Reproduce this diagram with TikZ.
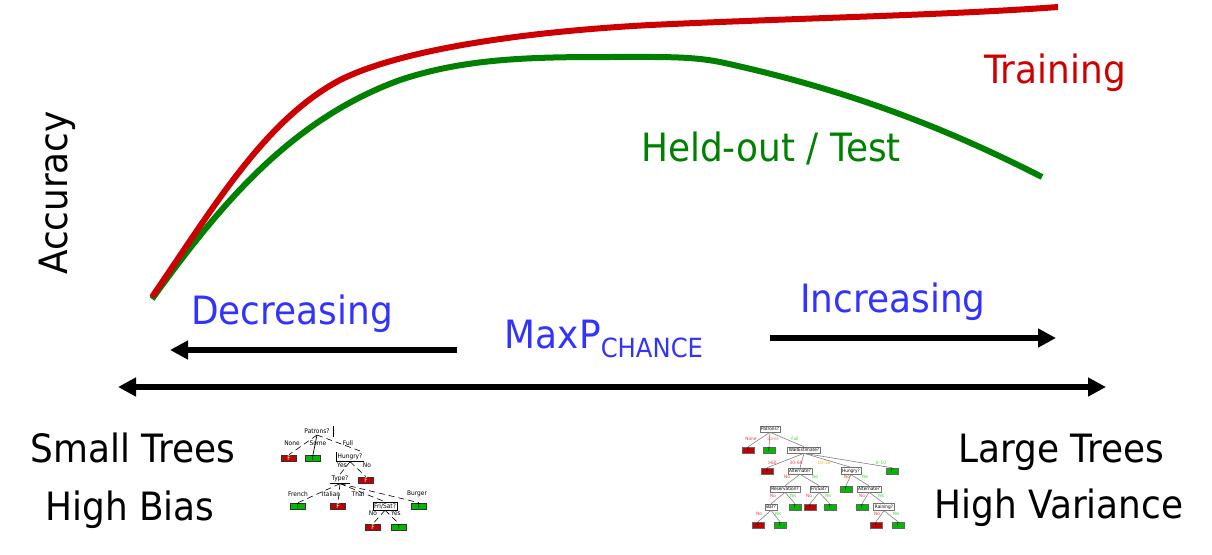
\documentclass[tikz,border=0pt]{standalone}
\usepackage{fontspec}
\setmainfont{DejaVu Sans}[FakeStretch=0.92]
\usetikzlibrary{arrows.meta}
\definecolor{trainred}{RGB}{204,0,0}
\definecolor{testgreen}{RGB}{0,128,0}
\definecolor{labelblue}{RGB}{51,51,255}
\definecolor{leafred}{RGB}{192,0,0}
\definecolor{leafgreen}{RGB}{0,185,0}
\definecolor{lblred}{RGB}{240,60,60}
\definecolor{lblgreen}{RGB}{60,210,60}
\definecolor{lblorange}{RGB}{255,170,30}
\newcommand{\smallfont}{\fontsize{3.2}{3.7}\selectfont}
\newcommand{\bigtreefont}{\fontsize{2.3}{2.7}\selectfont}
\tikzset{
  big/.style={font=\fontsize{19.5}{23}\selectfont, inner sep=0pt, anchor=base},
  curve/.style={line width=3pt},
  bar/.style={line width=3pt},
  tip/.tip={Triangle[length=9pt,width=9pt]},
  sleaf/.style={draw=black!80, line width=0.3pt, minimum width=7.5pt, minimum height=3pt, inner sep=0pt, font=\smallfont},
  sleafF/.style={sleaf, fill=leafred, text=white},
  sleafT/.style={sleaf, fill=leafgreen},
  stest/.style={inner sep=0.6pt, font=\smallfont},
  sbox/.style={stest, draw, line width=0.3pt},
  sedge/.style={densely dashed, line width=0.3pt},
  slbl/.style={inner sep=0pt, font=\smallfont},
  bleaf/.style={draw=black!60, line width=0.25pt, minimum width=6pt, minimum height=3pt, inner sep=0pt, font=\bigtreefont},
  bleafF/.style={bleaf, fill=leafred},
  bleafT/.style={bleaf, fill=leafgreen},
  btest/.style={draw=black!55, line width=0.3pt, fill=white, inner sep=0.6pt, font=\bigtreefont},
  bedge/.style={draw=black!50, line width=0.3pt},
  blbl/.style={inner sep=0pt, font=\bigtreefont},
}
\begin{document}
\begin{tikzpicture}[x=0.5pt,y=-0.5pt]
\useasboundingbox (0,0) rectangle (1212,554);

\draw[curve, testgreen] (152,299) .. controls (220,205) and (290,120) .. (400,80)
  .. controls (460,60) and (520,57) .. (600,57)
  .. controls (660,57) and (690,56) .. (720,62)
  .. controls (850,90) and (950,130) .. (1042,177);
\draw[curve, trainred] (152,297) .. controls (215,205) and (265,120) .. (340,80)
  .. controls (400,50) and (520,32) .. (650,25)
  .. controls (800,18) and (950,15) .. (1058,7);

\node[big, text=trainred] (train) at (1055,83) {Training};
\node[big, text=testgreen] (test) at (771,161) {Held-out / Test};
\node[big, rotate=90] (acc) at (68,193) {Accuracy};

\node[big, text=labelblue] (dec) at (292,324) {Decreasing};
\node[big, text=labelblue] (inc) at (893,312) {Increasing};
\node[big, text=labelblue] (maxp) at (604,348) {MaxP\raisebox{-4.5pt}{\fontsize{13.2}{15}\selectfont CHANCE}};

\coordinate (decS) at (457,350);
\coordinate (decE) at (170,350);
\coordinate (incS) at (770,338);
\coordinate (incE) at (1056,338);
\coordinate (axisL) at (118,387);
\coordinate (axisR) at (1106,387);
\draw[bar, -tip] (decS) -- (decE);
\draw[bar, -tip] (incS) -- (incE);
\draw[bar, tip-tip] (axisL) -- (axisR);

\node[big] (smallt) at (133,462) {Small Trees};
\node[big] (bias) at (130,520) {High Bias};
\node[big] (larget) at (1061,462) {Large Trees};
\node[big] (variance) at (1059,518) {High Variance};

% small tree
\node[stest] (sPat) at (317,431) {Patrons?};
\draw[line width=0.4pt] (333,426) -- (333,437);
\node[sleafF] (sNone) at (289,458) {F};
\node[sleafT] (sSome) at (313,458) {T};
\node[stest] (sHun) at (350,457) {Hungry?};
\draw[line width=0.35pt] (sHun.north west) -- (sHun.south west) -- (sHun.south east);
\node[sleafF] (sHunNo) at (366,480) {F};
\node[stest] (sType) at (340,479) {Type?};
\draw[line width=0.35pt] (sType.south west) -- (sType.south east);
\node[sleafT] (sFrench) at (298,506) {T};
\node[sleafF] (sItalian) at (338,506) {F};
\node[sbox] (sFri) at (385,506) {Fri/Sat?};
\node[sleafT] (sBurger) at (419,506) {T};
\node[sleafF] (sFriNo) at (373,527) {F};
\node[sleafT] (sFriYes) at (399,527) {T};
\draw[sedge] (sPat.south) -- (sNone.north);
\draw[line width=0.35pt] (sPat.south) -- (sSome.north);
\draw[sedge] (sPat.south) -- (sHun.north east);
\draw[sedge] (sHun.south) -- (sType.north);
\draw[sedge] (sHun.south) -- (sHunNo.north);
\draw[sedge] (sType.south) -- (sFrench.north);
\draw[sedge] (sType.south) -- (sItalian.north);
\draw[sedge] (sType.south) -- (sFri.north);
\draw[sedge] (sType.south) -- (sBurger.north);
\draw[sedge] (sFri.south) -- (sFriNo.north);
\draw[sedge] (sFri.south) -- (sFriYes.north);
\node[slbl] (slNone) at (292,443) {None};
\node[slbl] (slSome) at (318,443) {Some};
\node[slbl] (slFull) at (348,443) {Full};
\node[slbl] (slYes1) at (342,465) {Yes};
\node[slbl] (slNo1) at (367,465) {No};
\node[slbl] (slFrench) at (298,494) {French};
\node[slbl] (slItalian) at (331,494) {Italian};
\node[slbl] (slThai) at (358,494) {Thai};
\node[slbl] (slBurger) at (417,494) {Burger};
\node[slbl] (slNo2) at (373,513) {No};
\node[slbl] (slYes2) at (396,513) {Yes};

% large tree
\node[btest] (bPat) at (770,429) {Patrons?};
\node[bleafF] (bF1) at (748,450) {F};
\node[bleafT] (bT1) at (769,450) {T};
\node[btest] (bWait) at (804,450) {WaitEstimate?};
\node[bleafF] (bF2) at (767,471) {F};
\node[btest] (bAlt1) at (800,471) {Alternate?};
\node[btest] (bHun) at (851,471) {Hungry?};
\node[bleafT] (bT2) at (892,471) {T};
\node[btest] (bRes) at (785,489) {Reservation?};
\node[btest] (bFri) at (819,489) {Fri/Sat?};
\node[bleafT] (bT3) at (846,489) {T};
\node[btest] (bAlt2) at (869,489) {Alternate?};
\node[btest] (bBar) at (771,507) {Bar?};
\node[bleafT] (bT4) at (795,507) {T};
\node[bleafF] (bF3) at (810,507) {F};
\node[bleafT] (bT5) at (830,507) {T};
\node[bleafT] (bT6) at (862,507) {T};
\node[btest] (bRain) at (884,507) {Raining?};
\node[bleafF] (bF4) at (758,525) {F};
\node[bleafT] (bT7) at (780,525) {T};
\node[bleafF] (bF5) at (876,525) {F};
\node[bleafT] (bT8) at (898,525) {T};
\draw[bedge] (bPat.south) -- (bF1.north);
\draw[bedge] (bPat.south) -- (bT1.north);
\draw[bedge] (bPat.south) -- (bWait.north);
\draw[bedge] (bWait.south) -- (bF2.north);
\draw[bedge] (bWait.south) -- (bAlt1.north);
\draw[bedge] (bWait.south) -- (bHun.north);
\draw[bedge] (bWait.south) -- (bT2.north);
\draw[bedge] (bAlt1.south) -- (bRes.north);
\draw[bedge] (bAlt1.south) -- (bFri.north);
\draw[bedge] (bHun.south) -- (bT3.north);
\draw[bedge] (bHun.south) -- (bAlt2.north);
\draw[bedge] (bRes.south) -- (bBar.north);
\draw[bedge] (bRes.south) -- (bT4.north);
\draw[bedge] (bFri.south) -- (bF3.north);
\draw[bedge] (bFri.south) -- (bT5.north);
\draw[bedge] (bAlt2.south) -- (bT6.north);
\draw[bedge] (bAlt2.south) -- (bRain.north);
\draw[bedge] (bBar.south) -- (bF4.north);
\draw[bedge] (bBar.south) -- (bT7.north);
\draw[bedge] (bRain.south) -- (bF5.north);
\draw[bedge] (bRain.south) -- (bT8.north);
\node[blbl, text=lblred] (blNone) at (751,439) {None};
\node[blbl, text=lblred!70] (blSome) at (773,439) {Some};
\node[blbl, text=lblgreen] (blFull) at (795,439) {Full};
\node[blbl, text=lblred] (bl60) at (772,463) {>60};
\node[blbl, text=lblred] (bl30) at (796,463) {30--60};
\node[blbl, text=lblorange] (bl10) at (824,463) {10--30};
\node[blbl, text=lblgreen] (bl0) at (881,463) {0--10};
\node[blbl, text=lblred] (blNo1) at (787,477) {No};
\node[blbl, text=lblgreen] (blYes1) at (815,477) {Yes};
\node[blbl, text=lblred] (blNo2) at (847,477) {No};
\node[blbl, text=lblgreen] (blYes2) at (865,477) {Yes};
\node[blbl, text=lblred] (blNo3) at (773,496) {No};
\node[blbl, text=lblgreen] (blYes3) at (793,496) {Yes};
\node[blbl, text=lblred] (blNo4) at (809,496) {No};
\node[blbl, text=lblgreen] (blYes4) at (828,496) {Yes};
\node[blbl, text=lblred] (blNo5) at (862,496) {No};
\node[blbl, text=lblgreen] (blYes5) at (881,496) {Yes};
\node[blbl, text=lblred] (blNo6) at (759,514) {No};
\node[blbl, text=lblgreen] (blYes6) at (778,514) {Yes};
\node[blbl, text=lblred] (blNo7) at (877,514) {No};
\node[blbl, text=lblgreen] (blYes7) at (896,514) {Yes};
\end{tikzpicture}
\end{document}
